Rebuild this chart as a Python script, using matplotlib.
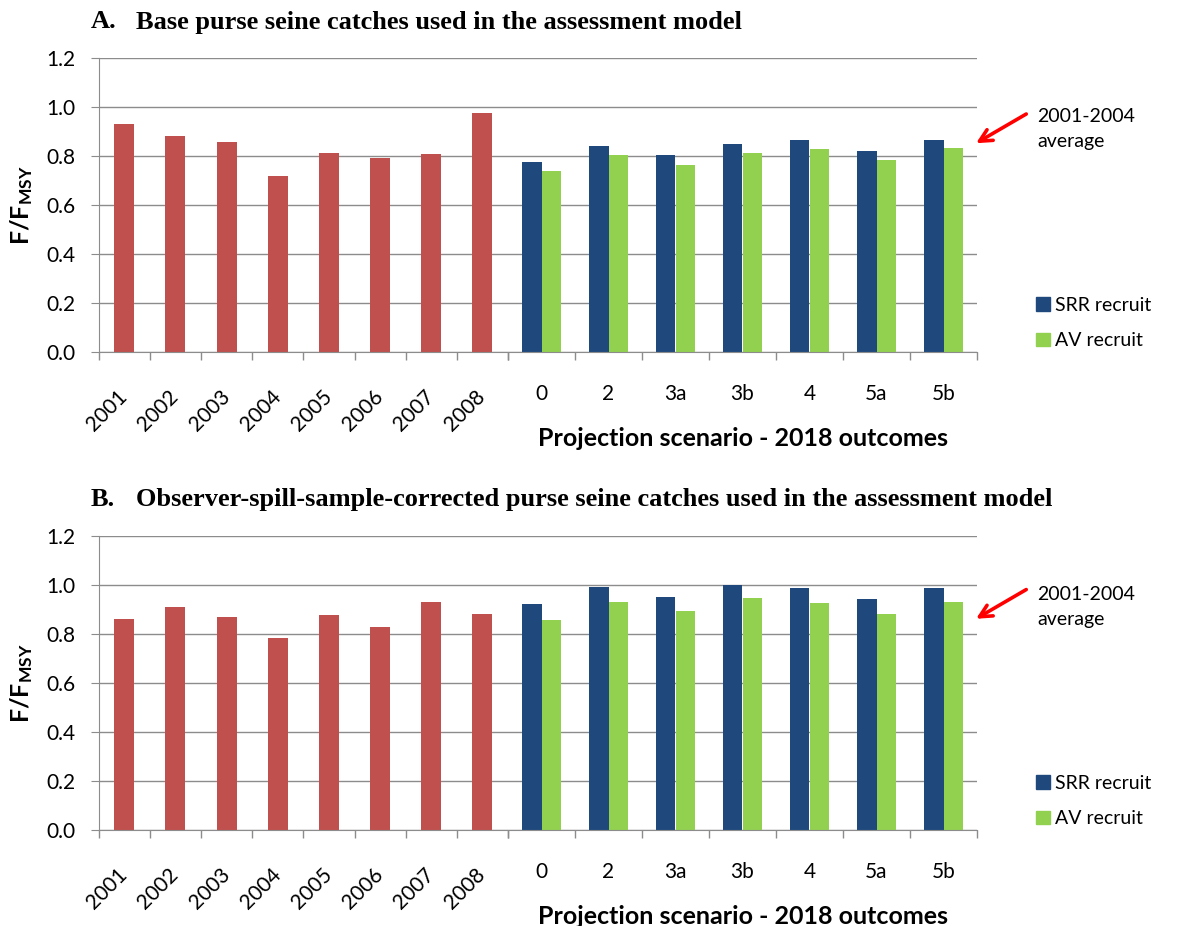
import matplotlib
matplotlib.use("Agg")
import matplotlib.pyplot as plt
import numpy as np
from matplotlib.patches import Patch

plt.rcParams["font.family"] = ["Lato", "DejaVu Sans"]
plt.rcParams["mathtext.fontset"] = "custom"
plt.rcParams["mathtext.bf"] = "Lato:bold"
plt.rcParams["mathtext.rm"] = "Lato"

# ---- data -------------------------------------------------------------
years = ["2001", "2002", "2003", "2004", "2005", "2006", "2007", "2008"]
scenarios = ["0", "2", "3a", "3b", "4", "5a", "5b"]

base_hist = [0.930, 0.881, 0.857, 0.718, 0.811, 0.792, 0.807, 0.974]
base_srr = [0.777, 0.842, 0.803, 0.847, 0.867, 0.822, 0.867]
base_av = [0.738, 0.803, 0.763, 0.812, 0.827, 0.782, 0.833]

corr_hist = [0.862, 0.911, 0.868, 0.785, 0.877, 0.828, 0.932, 0.881]
corr_srr = [0.921, 0.990, 0.952, 1.000, 0.986, 0.941, 0.986]
corr_av = [0.858, 0.932, 0.892, 0.947, 0.927, 0.882, 0.932]

yticks = [0.0, 0.2, 0.4, 0.6, 0.8, 1.0, 1.2]
series_names = ["SRR recruit", "AV recruit"]

# ---- style ------------------------------------------------------------
RED = "#C0504D"
BLUE = "#1F497D"
GREEN = "#92D050"
GRID = "#8C8C8C"

W, H = 1178, 926
fig = plt.figure(figsize=(W / 100, H / 100), dpi=100)


def fx(px):
    return px / W


def fy(py):
    return 1 - py / H


def style_axes(ax, n):
    ax.set_ylim(0, 1.2)
    ax.set_xlim(-0.5, n - 0.5)
    ax.set_yticks(yticks)
    ax.yaxis.grid(True, color=GRID, lw=1.0)
    ax.set_axisbelow(True)
    for s in ("top", "right"):
        ax.spines[s].set_visible(False)
    ax.spines["bottom"].set_color(GRID)
    ax.spines["left"].set_color(GRID)
    ax.set_xticks(np.arange(n))
    ax.set_xticks(np.arange(-0.5, n), minor=True)
    ax.tick_params(axis="x", which="major", length=0)
    ax.tick_params(axis="x", which="minor", length=5.8, color=GRID, width=1)


def panel(top, bottom, letter, title, hist, srr, av):
    left, mid, right = 98.7, 508, 977
    axL = fig.add_axes([fx(left), fy(bottom), (mid - left) / W, (bottom - top) / H])
    axR = fig.add_axes([fx(mid), fy(bottom), (right - mid) / W, (bottom - top) / H])

    # historical years
    style_axes(axL, len(years))
    axL.bar(np.arange(len(years)), hist, width=0.39, color=RED, zorder=2)
    axL.set_yticklabels([f"{v:.1f}" for v in yticks], fontsize=15)
    axL.tick_params(axis="y", length=5.8, color=GRID, pad=11)
    axL.set_xticklabels(years, fontsize=15)
    axL.tick_params(axis="x", which="major", pad=30)
    for lab in axL.get_xticklabels():
        lab.set_rotation(45)
        lab.set_rotation_mode("anchor")
        lab.set_ha("right")
        lab.set_va("center")

    # projection scenarios
    style_axes(axR, len(scenarios))
    x = np.arange(len(scenarios))
    axR.bar(x - 0.145, srr, width=0.29, color=BLUE, zorder=2, label=series_names[0])
    axR.bar(x + 0.145, av, width=0.29, color=GREEN, zorder=2, label=series_names[1])
    axR.spines["left"].set_visible(False)
    axR.tick_params(axis="y", left=False, labelleft=False)
    axR.set_xticklabels(scenarios, fontsize=15)
    axR.tick_params(axis="x", which="major", pad=23)

    # arrow pointing to the 2001-2004 mean
    avg = float(np.mean(hist[:4]))
    axR.annotate("", xy=(6.45, avg), xycoords="data",
                 xytext=(55, 32), textcoords="offset pixels",
                 arrowprops=dict(arrowstyle="->", color="red", lw=2.6,
                                 mutation_scale=22),
                 annotation_clip=False)
    fig.text(fx(1037), fy(top + 58), "2001-2004", fontsize=14, va="center")
    fig.text(fx(1037), fy(top + 84), "average", fontsize=14, va="center")

    handles = [Patch(color=BLUE), Patch(color=GREEN)]
    axR.legend(handles, series_names, loc="center left",
               bbox_to_anchor=(fx(1036), fy(top + 265)),
               bbox_transform=fig.transFigure, frameon=False,
               fontsize=14, handlelength=0.7, handleheight=0.7,
               handletextpad=0.3, labelspacing=0.95, borderaxespad=0,
               borderpad=0)

    fig.text(fx(742.5), fy(bottom + 86), "Projection scenario - 2018 outcomes",
             fontsize=18, fontweight="bold", ha="center", va="center")

    fig.text(fx(22), fy((top + bottom) / 2), r"$\mathbf{F/F_{MSY}}$",
             rotation=90, fontsize=18, ha="center", va="center")

    fig.text(fx(91), fy(top - 36), letter, family="Liberation Serif",
             fontweight="bold", fontsize=19, va="center")
    fig.text(fx(136), fy(top - 36), title, family="Liberation Serif",
             fontweight="bold", fontsize=19, va="center")


panel(58, 352, "A.", "Base purse seine catches used in the assessment model",
      base_hist, base_srr, base_av)
panel(536, 830, "B.",
      "Observer-spill-sample-corrected purse seine catches used in the assessment model",
      corr_hist, corr_srr, corr_av)

fig.savefig("out.png", dpi=100)
